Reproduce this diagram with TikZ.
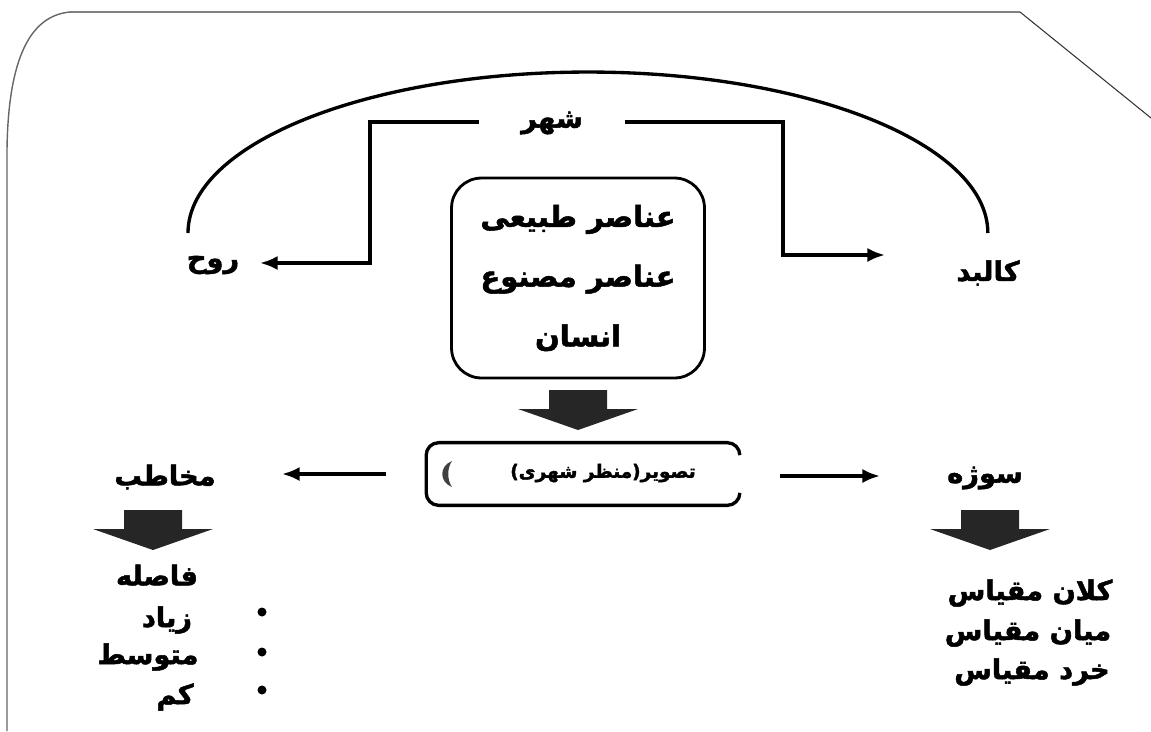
\documentclass[tikz,border=0pt]{standalone}
\usepackage{fontspec}
\newfontfamily\arabicfont[Script=Arabic,BoldFeatures={FakeBold=1.8}]{DejaVu Sans}
\TeXXeTstate=1
\newcommand{\fa}[1]{\beginR #1\endR}
\usetikzlibrary{arrows.meta}

\begin{document}
\begin{tikzpicture}[x=0.02cm,y=-0.02cm,
    lbl/.style={font=\arabicfont\bfseries\fontsize{15.5}{18}\selectfont,inner sep=1pt},
    conn/.style={line width=1.9pt},
    arr/.style={conn,-{Latex[length=10pt,width=8pt]}},
    downarr/.pic={\fill[black!85] (-29,0) -- (29,0) -- (29,19) -- (60,19) -- (0,40) -- (-60,19) -- (-29,19) -- cycle;}]
  \useasboundingbox (0,0) rectangle (1151,731);
  % frame
  \draw[black!50,line width=1.5pt] (70,12) -- (1020,12);
  \draw[black!60,line width=0.8pt] (70,12) .. controls (25,16) and (8,70) .. (7,150) -- (7,731);
  \draw[black!80,line width=0.6pt] (1020,12) -- (1151,118);
  % top
  \node[lbl] (city) at (552,123) {\fa{شهر}};
  \draw[conn] (188,233) arc[start angle=180,end angle=0,x radius=8cm,y radius=3.22cm];
  \node[lbl] (roh) at (213,265) {\fa{روح}};
  \node[lbl] (kalbad) at (988,273) {\fa{کالبد}};
  \coordinate (rohin) at (260,263);
  \coordinate (kalbadin) at (885,255);
  \draw[arr] ([xshift=-0.8cm]city.west |- 0,122) -| (370,263) -- (rohin);
  \draw[arr] ([xshift=0.8cm]city.east |- 0,122) -| (783,255) -- (kalbadin);
  % elements box
  \node[draw,line width=1.6pt,rounded corners=0.6cm,minimum width=5.06cm,minimum height=4cm,
        align=center,font=\arabicfont\bfseries\fontsize{16.5}{34}\selectfont] (elem) at (578,278)
        {\fa{عناصر طبیعی}\\\fa{عناصر مصنوع}\\\fa{انسان}};
  \pic at (578,390) {downarr};
  % picture box
  \node[minimum width=6.26cm,minimum height=1.24cm,inner sep=0pt] (pic) at (583,474) {};
  \node[font=\arabicfont\bfseries\fontsize{10.5}{13}\selectfont] (pictxt) at (603,473) {\fa{تصویر(منظر شهری)}};
  \draw[conn,rounded corners=0.25cm] ([yshift=-0.25cm]pic.north east) -- (pic.north east) -- (pic.north west)
    -- (pic.south west) -- (pic.south east) -- ([yshift=0.25cm]pic.south east);
  \fill[black!75] (452,461) .. controls (439,466) and (439,482) .. (452,487) .. controls (447,480) and (447,468) .. (452,461);
  \node[lbl] (mokhatab) at (165,477) {\fa{مخاطب}};
  \node[lbl] (sooje) at (985,478) {\fa{سوژه}};
  \coordinate (mokhatabin) at (282,474);
  \coordinate (soojein) at (880,476);
  \draw[arr] ([xshift=-0.8cm]pic.west) -- (mokhatabin);
  \draw[arr] ([xshift=0.8cm]pic.east |- soojein) -- (soojein);
  % left column
  \pic at (153,510) {downarr};
  \node[lbl] (fasele) at (157,575) {\fa{فاصله}};
  \node[lbl] (ziad) at (167,620) {\fa{زیاد}};
  \node[lbl] (motavaset) at (148,657) {\fa{متوسط}};
  \node[lbl] (kam) at (175,697) {\fa{کم}};
  \foreach \y in {612,652,690}
    \fill (262,\y) circle (0.09cm);
  % right column
  \pic at (990,510) {downarr};
  \node[lbl] (kalan) at (1030,593) {\fa{کلان مقیاس}};
  \node[lbl] (mian) at (1028,633) {\fa{میان مقیاس}};
  \node[lbl] (khord) at (1032,672) {\fa{خرد مقیاس}};
\end{tikzpicture}
\end{document}
